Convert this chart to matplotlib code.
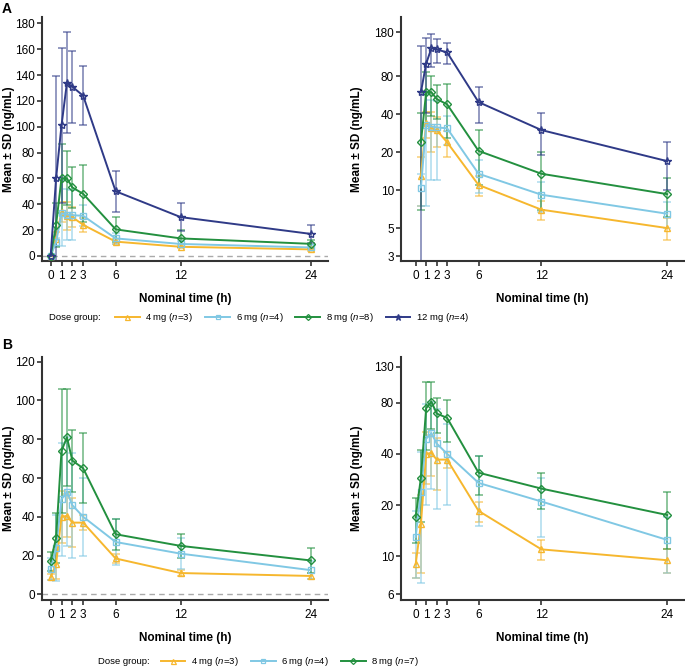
import numpy as np
import matplotlib
matplotlib.use("Agg")
import matplotlib.pyplot as plt
from matplotlib.lines import Line2D

plt.rcParams['font.family'] = ['Liberation Sans', 'DejaVu Sans']
plt.rcParams['mathtext.fontset'] = 'custom'
plt.rcParams['mathtext.it'] = 'Liberation Sans:italic'
plt.rcParams['mathtext.rm'] = 'Liberation Sans'

# nominal sampling times (h)
times = [0, 0.5, 1, 1.5, 2, 3, 6, 12, 24]

# Panel A: mean and SD (ng/mL) per dose group
a_4mg_mean = [0, 13, 34, 31, 30, 24, 11, 7, 5]
a_4mg_sd = [0, 5.5, 8, 11, 8, 5.5, 2, 1.2, 1]
a_6mg_mean = [0, 10.5, 33, 32, 31.5, 31, 13.5, 9.2, 6.5]
a_6mg_sd = [0, 3, 25.5, 20, 19.5, 8, 4, 2.5, 1.5]
a_8mg_mean = [0, 24, 60, 60, 53, 48, 20.5, 13.5, 9.3]
a_8mg_sd = [0, 17, 27, 21, 16, 22, 9.5, 6.5, 3.2]
a_12mg_mean = [0, 60, 101, 134, 131, 124, 50, 30, 17]
a_12mg_sd = [0, 79, 60, 39, 28, 23, 16, 11, 7]

# Panel B
b_4mg_mean = [9, 15.5, 40, 40.5, 37, 37, 18.5, 11, 9.5]
b_4mg_sd = [1.5, 7.5, 13.5, 11, 12.5, 4, 2.5, 1.5, 1.5]
b_6mg_mean = [13, 24, 49, 53, 46, 40, 27, 21, 12.5]
b_6mg_sd = [5.5, 17, 29, 28, 27, 20, 12, 8, 4.5]
b_8mg_mean = [17, 29, 74, 81, 69, 65, 31, 25, 17.5]
b_8mg_sd = [5, 13, 32, 25, 16, 18, 8, 6, 6.5]

labels_a = ["4 mg ($n$=3)", "6 mg ($n$=4)", "8 mg ($n$=8)", "12 mg ($n$=4)"]
labels_b = ["4 mg ($n$=3)", "6 mg ($n$=4)", "8 mg ($n$=7)"]
colors = ['#F6B72E', '#80C8E4', '#23903F', '#2F3A87']
markers = ['^', 's', 'D', '*']
msizes = [4.5, 4, 3.8, 6]

xticks = [0, 1, 2, 3, 6, 12, 24]
spine_col = '#333333'


def style_axes(ax, label_x):
    for s in ['top', 'right']:
        ax.spines[s].set_visible(False)
    for s in ['left', 'bottom']:
        ax.spines[s].set_linewidth(1.5)
        ax.spines[s].set_color(spine_col)
    ax.tick_params(length=3.5, width=1.2, labelsize=8.5, color=spine_col)
    ax.tick_params(axis='y', pad=1.5)
    ax.tick_params(axis='x', pad=3)
    ax.set_xticks(xticks)
    ax.set_xlim(-0.8, 25.6)
    ax.set_xlabel("Nominal time (h)", fontsize=8.5, fontweight='bold', labelpad=8)
    ax.set_ylabel("Mean \u00b1 SD (ng/mL)", fontsize=8.5, fontweight='bold')
    ax.yaxis.set_label_coords(label_x, 0.5)


def draw(ax, means, sds, log=False):
    for i, (m, s) in enumerate(zip(means, sds)):
        t = np.array(times, dtype=float)
        m = np.array(m, dtype=float)
        s = np.array(s, dtype=float)
        if log:
            keep = m > 0
            t, m, s = t[keep], m[keep], s[keep]
        lo = m - s
        if log:
            lo = np.maximum(lo, 0.01)
        ax.errorbar(t, m, yerr=[m - lo, s], fmt='none', ecolor=colors[i],
                    elinewidth=1.1, capsize=3, capthick=1.1, alpha=0.65, zorder=2)
        ax.plot(t, m, color=colors[i], lw=1.4, marker=markers[i], ms=msizes[i],
                mfc='none', mew=1.0, zorder=3)


fig = plt.figure(figsize=(6.85, 6.68), dpi=100)
W, H = 685, 668


def add_ax(x0, x1, ytop, ybot):
    return fig.add_axes([x0 / W, 1 - ybot / H, (x1 - x0) / W, (ybot - ytop) / H])


# Panel A
axA1 = add_ax(42, 328, 17, 261)
draw(axA1, [a_4mg_mean, a_6mg_mean, a_8mg_mean, a_12mg_mean],
     [a_4mg_sd, a_6mg_sd, a_8mg_sd, a_12mg_sd])
axA1.axhline(0, color='#aaaaaa', lw=1, ls=(0, (4, 3)), zorder=1)
style_axes(axA1, -0.095)
axA1.set_ylim(-4, 185)
axA1.set_yticks(np.arange(0, 181, 20))

axA2 = add_ax(401, 684, 17, 261)
draw(axA2, [a_4mg_mean, a_6mg_mean, a_8mg_mean, a_12mg_mean],
     [a_4mg_sd, a_6mg_sd, a_8mg_sd, a_12mg_sd], log=True)
axA2.set_yscale('log')
style_axes(axA2, -0.133)
axA2.set_xlim(-1.4, 25.6)
axA2.set_ylim(2.74, 237)
axA2.set_yticks([3, 5, 10, 20, 40, 80, 180])
axA2.set_yticklabels(['3', '5', '10', '20', '40', '80', '180'])
axA2.minorticks_off()

# Panel B
axB1 = add_ax(42, 328, 357, 600)
draw(axB1, [b_4mg_mean, b_6mg_mean, b_8mg_mean], [b_4mg_sd, b_6mg_sd, b_8mg_sd])
axB1.axhline(0, color='#aaaaaa', lw=1, ls=(0, (4, 3)), zorder=1)
style_axes(axB1, -0.095)
axB1.set_ylim(-2.9, 122.4)
axB1.set_yticks(np.arange(0, 121, 20))

axB2 = add_ax(401, 684, 357, 600)
draw(axB2, [b_4mg_mean, b_6mg_mean, b_8mg_mean], [b_4mg_sd, b_6mg_sd, b_8mg_sd], log=True)
axB2.set_yscale('log')
style_axes(axB2, -0.133)
axB2.set_xlim(-1.4, 25.6)
axB2.set_ylim(5.55, 148)
axB2.set_yticks([6, 10, 20, 40, 80, 130])
axB2.set_yticklabels(['6', '10', '20', '40', '80', '130'])
axB2.minorticks_off()

fig.text(2 / W, 1 - 9 / H, "A", fontsize=10, fontweight='bold', va='center')
fig.text(2 / W, 1 - 345 / H, "B", fontsize=10, fontweight='bold', va='center')


def legend(labels, x_text, x_center, y):
    handles = [Line2D([], [], color=colors[i], lw=1.4, marker=markers[i],
                      ms=msizes[i] * 0.8, mfc='none', mew=0.9) for i in range(len(labels))]
    fig.text(x_text / W, 1 - y / H, "Dose group:", fontsize=6.8, va='center')
    fig.legend(handles, labels, loc='center', bbox_to_anchor=(x_center / W, 1 - y / H),
               ncol=len(labels), frameon=False, fontsize=6.8, handlelength=2.6,
               handletextpad=0.6, columnspacing=1.3, borderpad=0, borderaxespad=0)


legend(labels_a, 49, 292, 318)
legend(labels_b, 98, 290, 662)

fig.savefig("out.png", dpi=100)
